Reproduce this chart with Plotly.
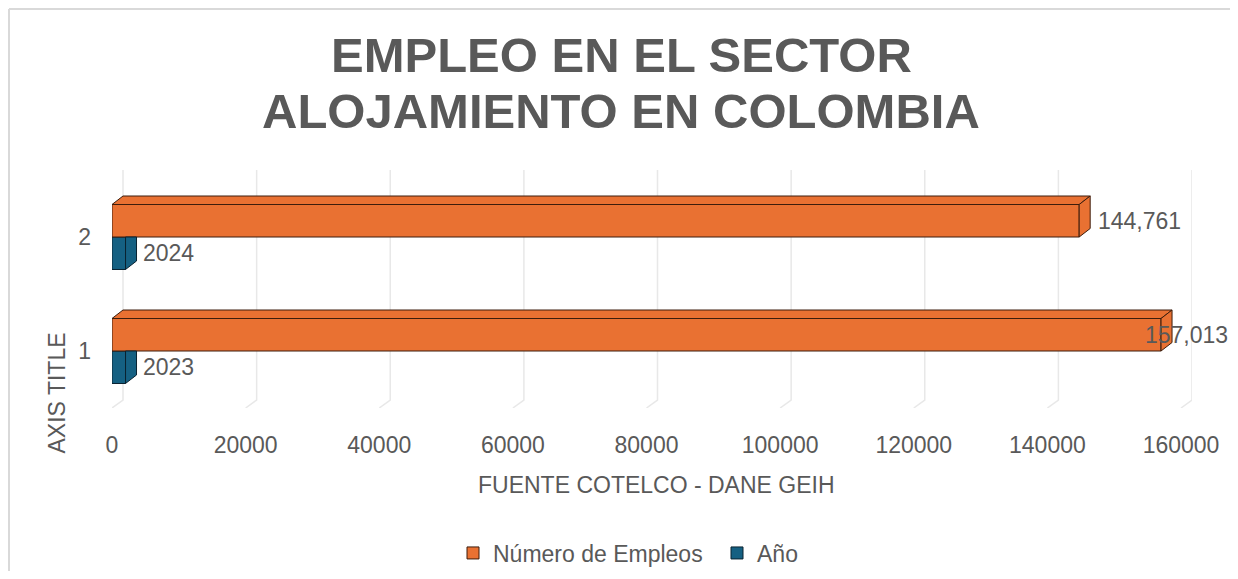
import plotly.graph_objects as go

# ---------------- data ----------------
categories = [1, 2]
cat_labels = ["1", "2"]
empleos = [157013, 144761]
anios = [2023, 2024]
series_names = ["Número de Empleos", "Año"]
x_ticks = [0, 20000, 40000, 60000, 80000, 100000, 120000, 140000, 160000]
title_lines = ["EMPLEO EN EL SECTOR", "ALOJAMIENTO EN COLOMBIA"]
x_title = "FUENTE COTELCO - DANE GEIH"
y_title = "AXIS TITLE"

# ---------------- style / layout ----------------
OFF = 8                                   # page body margin
SW, SH = 1238, 579                        # screen size
W, H = SW - 2 * OFF, SH - 2 * OFF         # figure size (fits page with body margins)
# plot area in screen px
SL, SR, ST, SB = 112, 1192, 170, 408
L, R, T, B = SL - OFF, SR - OFF, ST - OFF, SB - OFF
PW, PH = R - L, B - T
FRONT_RIGHT = 1181                        # screen px of last tick on the front plane
XMAX = x_ticks[-1] * PW / (FRONT_RIGHT - SL)
PX_PER_CAT = 114
YMIN = 0.5
YMAX = YMIN + PH / PX_PER_CAT
DX = 11 * XMAX / PW                       # 3D depth (x)
DY = 8.5 / PX_PER_CAT                     # 3D depth (y)
BW = 0.285                                # bar thickness

ORANGE = "#E97132"
BLUE = "#156082"
EDGE_O = "#3d1d0c"
EDGE_B = "#0a2230"
TXT = "#595959"
GRID = "#E8E8E8"
FONT = "Liberation Sans, Arial, sans-serif"
FS = 23


def px_x(p):  # screen px -> paper x
    return (p - OFF - L) / PW


def px_y(p):  # screen px -> paper y
    return (B - (p - OFF)) / PH


def data_px(v):  # data value -> screen px
    return SL + v / XMAX * PW


fig = go.Figure()

# front faces (bars)
fig.add_trace(go.Bar(
    y=categories, x=anios, orientation="h", name=series_names[1],
    width=BW, offset=-BW, marker=dict(color=BLUE, line=dict(color=EDGE_B, width=1)),
    legendrank=2, hoverinfo="skip"))
fig.add_trace(go.Bar(
    y=categories, x=empleos, orientation="h", name=series_names[0],
    width=BW, offset=0, marker=dict(color=ORANGE, line=dict(color=EDGE_O, width=1)),
    legendrank=1, hoverinfo="skip"))

# 3D faces
for c, v in zip(categories, anios):
    y0, y1 = c - BW, c
    fig.add_trace(go.Scatter(
        x=[v, v, v + DX, v + DX, v], y=[y0, y1, y1, y0 + DY, y0],
        mode="lines", fill="toself", fillcolor=BLUE,
        line=dict(color=EDGE_B, width=1), showlegend=False, hoverinfo="skip"))
for c, v in zip(categories, empleos):
    y0, y1 = c, c + BW
    fig.add_trace(go.Scatter(
        x=[0, DX, v + DX, v, 0], y=[y1, y1 + DY, y1 + DY, y1, y1],
        mode="lines", fill="toself", fillcolor=ORANGE,
        line=dict(color=EDGE_O, width=1), showlegend=False, hoverinfo="skip"))
    fig.add_trace(go.Scatter(
        x=[v, v, v + DX, v + DX, v], y=[y0, y1, y1 + DY, y0 + DY, y0],
        mode="lines", fill="toself", fillcolor=ORANGE,
        line=dict(color=EDGE_O, width=1), showlegend=False, hoverinfo="skip"))

annotations = []
# data labels
for c, v in zip(categories, empleos):
    txt = f"{v:,}"
    wtxt = FS * (sum(0.556 if ch.isdigit() else 0.278 for ch in txt))
    if data_px(v) + 18 + wtxt > SW - OFF:
        annotations.append(dict(x=px_x(SW - OFF), y=c + BW / 2, xref="paper", yref="y",
                                xanchor="right", yanchor="middle", text=txt,
                                showarrow=False, font=dict(size=FS, color=TXT, family=FONT)))
    else:
        annotations.append(dict(x=v, y=c + BW / 2, xref="x", yref="y", xshift=17,
                                xanchor="left", yanchor="middle", text=txt,
                                showarrow=False, font=dict(size=FS, color=TXT, family=FONT)))
for c, v in zip(categories, anios):
    annotations.append(dict(x=v, y=c - BW / 2, xref="x", yref="y", xshift=15,
                            xanchor="left", yanchor="middle", text=str(v),
                            showarrow=False, font=dict(size=FS, color=TXT, family=FONT)))

# title lines
for line, py in zip(title_lines, [55, 110.5]):
    annotations.append(dict(x=px_x(621), y=px_y(py), xref="paper", yref="paper",
                            xanchor="center", yanchor="middle", text=f"<b>{line}</b>",
                            showarrow=False, font=dict(size=49, color=TXT, family=FONT)))
# axis titles
annotations.append(dict(x=px_x(656), y=px_y(485), xref="paper", yref="paper",
                        xanchor="center", yanchor="middle", text=x_title, showarrow=False,
                        font=dict(size=FS, color=TXT, family=FONT)))
annotations.append(dict(x=px_x(56), y=px_y(393.5), xref="paper", yref="paper",
                        xanchor="center", yanchor="middle", text=y_title, textangle=-90,
                        showarrow=False, font=dict(size=FS, color=TXT, family=FONT)))

shapes = []
# 3D gridlines (back wall + floor slant)
y_back_bottom = YMIN + 8 / PX_PER_CAT
for t in x_ticks:
    shapes.append(dict(type="path", xref="x", yref="y", layer="below",
                       path=f"M {t + DX},{YMAX} L {t + DX},{y_back_bottom} L {t},{YMIN}",
                       line=dict(color=GRID, width=1.5)))
# chart area border (left & top)
shapes.append(dict(type="line", xref="paper", yref="paper",
                   x0=px_x(9), x1=px_x(9), y0=px_y(9), y1=px_y(600),
                   line=dict(color="#D9D9D9", width=2)))
shapes.append(dict(type="line", xref="paper", yref="paper",
                   x0=px_x(9), x1=px_x(1260), y0=px_y(9), y1=px_y(9),
                   line=dict(color="#D9D9D9", width=2)))

fig.update_layout(
    width=W, height=H,
    margin=dict(l=L, r=W - R, t=T, b=H - B, pad=0, autoexpand=False),
    paper_bgcolor="white", plot_bgcolor="white",
    barmode="overlay",
    showlegend=True,
    legend=dict(orientation="h", x=px_x(453), y=px_y(553), xanchor="left",
                yanchor="middle", font=dict(size=FS, color=TXT, family=FONT),
                traceorder="normal", itemclick=False, entrywidth=219,
                entrywidthmode="pixels"),
    annotations=annotations,
    shapes=shapes,
    font=dict(family=FONT, color=TXT, size=FS),
)
fig.update_xaxes(range=[0, XMAX], tickvals=x_ticks, ticktext=[str(t) for t in x_ticks],
                 showgrid=False, zeroline=False, showline=False, ticks="",
                 automargin=False,
                 ticklabelstandoff=21, tickfont=dict(size=FS, color=TXT, family=FONT))
fig.update_yaxes(range=[YMIN, YMAX], tickvals=categories, ticktext=cat_labels,
                 showgrid=False, zeroline=False, showline=False, ticks="",
                 automargin=False,
                 ticklabelstandoff=20, tickfont=dict(size=FS, color=TXT, family=FONT))

fig.write_html("out.html")
